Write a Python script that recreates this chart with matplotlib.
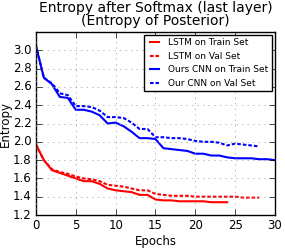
import matplotlib
matplotlib.use("Agg")
import matplotlib.pyplot as plt

plt.style.use("classic")

# epochs per series
ep_lstm_train = list(range(0, 25))
ep_lstm_val = list(range(0, 29))
ep_cnn_train = list(range(0, 31))
ep_cnn_val = list(range(0, 29))

lstm_train = [1.97, 1.80, 1.69, 1.66, 1.63, 1.60, 1.57, 1.57, 1.54, 1.49,
              1.47, 1.46, 1.45, 1.42, 1.42, 1.37, 1.36, 1.36, 1.35, 1.35,
              1.35, 1.35, 1.34, 1.34, 1.34]
lstm_val = [1.97, 1.80, 1.70, 1.67, 1.65, 1.62, 1.60, 1.59, 1.57, 1.53,
            1.52, 1.51, 1.49, 1.47, 1.47, 1.43, 1.42, 1.41, 1.41, 1.41,
            1.40, 1.40, 1.40, 1.40, 1.40, 1.40, 1.39, 1.39, 1.39]
cnn_train = [3.05, 2.70, 2.63, 2.49, 2.48, 2.35, 2.35, 2.33, 2.29, 2.20,
             2.21, 2.17, 2.11, 2.04, 2.04, 2.03, 1.93, 1.92, 1.91, 1.90,
             1.87, 1.87, 1.85, 1.85, 1.83, 1.82, 1.82, 1.82, 1.81, 1.81,
             1.80]
cnn_val = [3.05, 2.70, 2.64, 2.53, 2.51, 2.39, 2.39, 2.38, 2.34, 2.27,
           2.27, 2.26, 2.21, 2.14, 2.14, 2.05, 2.05, 2.04, 2.04, 2.03,
           2.01, 2.00, 2.00, 1.99, 1.96, 1.98, 1.97, 1.96, 1.95]

yticks = [1.2, 1.4, 1.6, 1.8, 2.0, 2.2, 2.4, 2.6, 2.8, 3.0]
xticks = [0, 5, 10, 15, 20, 25, 30]

fig = plt.figure(figsize=(2.85, 2.48), dpi=100, facecolor="white")
ax = fig.add_axes([0.126, 0.133, 0.839, 0.738])

dash = (2.6, 1.4)
ax.plot(ep_lstm_train, lstm_train, "r-", lw=1.5, label="LSTM on Train Set")
ax.plot(ep_lstm_val, lstm_val, "r--", lw=1.5, dashes=dash, label="LSTM on Val Set")
ax.plot(ep_cnn_train, cnn_train, "b-", lw=1.5, label="Ours CNN on Train Set")
ax.plot(ep_cnn_val, cnn_val, "b--", lw=1.5, dashes=dash, label="Our CNN on Val Set")

ax.set_xlim(0, 30)
ax.set_ylim(1.2, 3.2)
ax.set_xticks(xticks)
ax.set_yticks(yticks)
ax.tick_params(labelsize=8.5, pad=3)
ax.grid(True, color="0.6", linestyle=":")

ax.set_xlabel("Epochs", fontsize=8.5, labelpad=2)
ax.set_ylabel("Entropy", fontsize=8.5, labelpad=1)
ax.set_title("Entropy after Softmax (last layer)\n(Entropy of Posterior)",
             fontsize=10, linespacing=0.9, y=1.0)

leg = ax.legend(loc="upper right", fontsize=6.5, borderaxespad=0.3,
                handlelength=1.5)
leg.get_frame().set_edgecolor("black")

fig.savefig("out.png", dpi=100, facecolor="white")
